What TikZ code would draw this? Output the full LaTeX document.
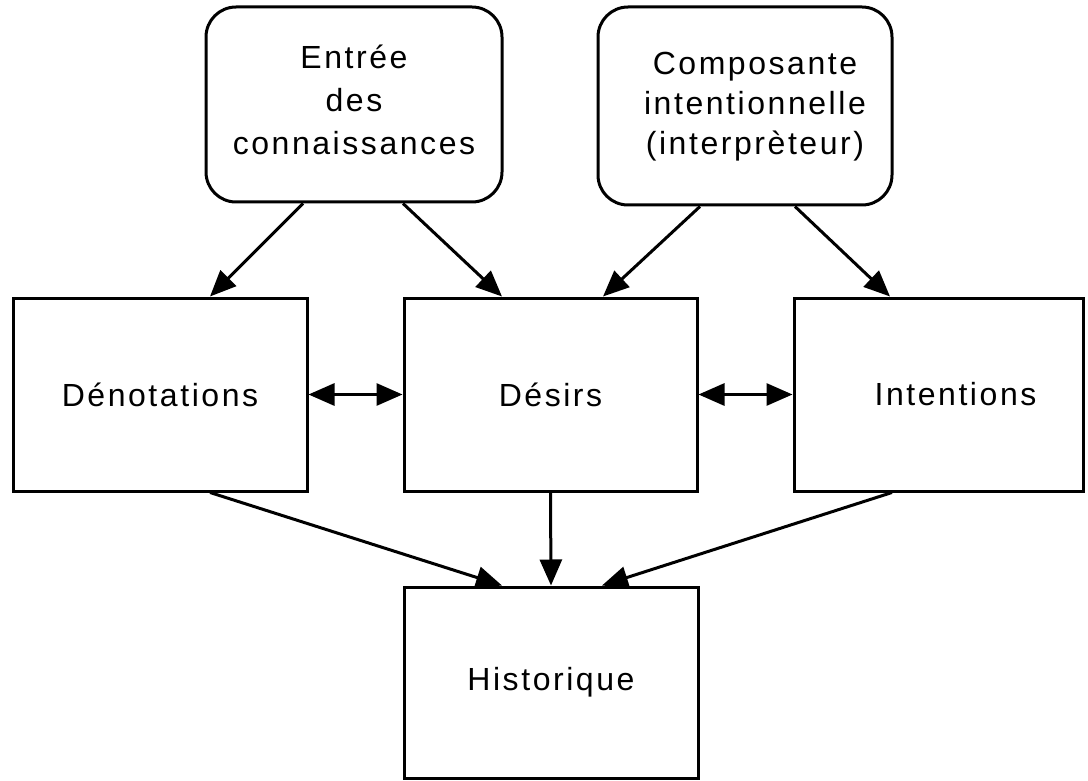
\documentclass[tikz,border=0pt]{standalone}
\usepackage{fontspec}
\setmainfont{Liberation Sans}[LetterSpace=8]
\usetikzlibrary{arrows.meta}
\begin{document}
\begin{tikzpicture}[x=1pt,y=-1pt,
  every node/.style={font=\fontsize{32}{43}\selectfont},
  box/.style={draw, line width=3pt, inner sep=0pt, align=center},
  roundbox/.style={box, rounded corners=30pt},
  label/.style={inner sep=0pt, align=center},
  arr/.style={line width=3pt, -{Triangle[length=26pt,width=22pt]}},
  darr/.style={line width=3pt, {Triangle[length=26pt,width=22pt]}-{Triangle[length=26pt,width=22pt]}}]
\useasboundingbox (0,0) rectangle (1088,781);
% input boxes
\node[roundbox, minimum width=296pt, minimum height=195pt] (ent) at (354,104.5) {};
\node[label] (enttext) at ([yshift=5pt]ent.center) {Entrée\\des\\connaissances};
\node[roundbox, minimum width=294pt, minimum height=198pt] (comp) at (745,106) {};
\node[label, font=\fontsize{32}{40}\selectfont] (comptext) at ([xshift=10pt,yshift=-1pt]comp.center)
  {Composante\\intentionnelle\\(interprèteur)};
% knowledge bases
\node[box, minimum width=294pt, minimum height=193pt] (den) at (160,394.5) {Dénotations};
\node[box, minimum width=293pt, minimum height=193pt] (des) at (550.5,394.5) {Désirs};
\node[box, minimum width=289pt, minimum height=193pt] (int) at (938.5,394.5) {\hspace*{34pt}Intentions};
% history
\node[box, minimum width=294pt, minimum height=191pt] (hist) at (551,682.5) {Historique};
% connectors
\draw[arr] ([xshift=-51pt]ent.south) -- ([xshift=50pt]den.north);
\draw[arr] ([xshift=49pt]ent.south) -- ([xshift=-48.5pt]des.north);
\draw[arr] ([xshift=-45pt]comp.south) -- ([xshift=52.5pt]des.north);
\draw[arr] ([xshift=50pt]comp.south) -- ([xshift=-48.5pt]int.north);
\draw[darr] (den.east) -- (des.west);
\draw[darr] (des.east) -- (int.west);
\draw[arr] ([xshift=50pt]den.south) -- ([xshift=-49pt]hist.north);
\draw[arr] (des.south) -- (hist.north);
\draw[arr] ([xshift=-46.5pt]int.south) -- ([xshift=51pt]hist.north);
\end{tikzpicture}
\end{document}
